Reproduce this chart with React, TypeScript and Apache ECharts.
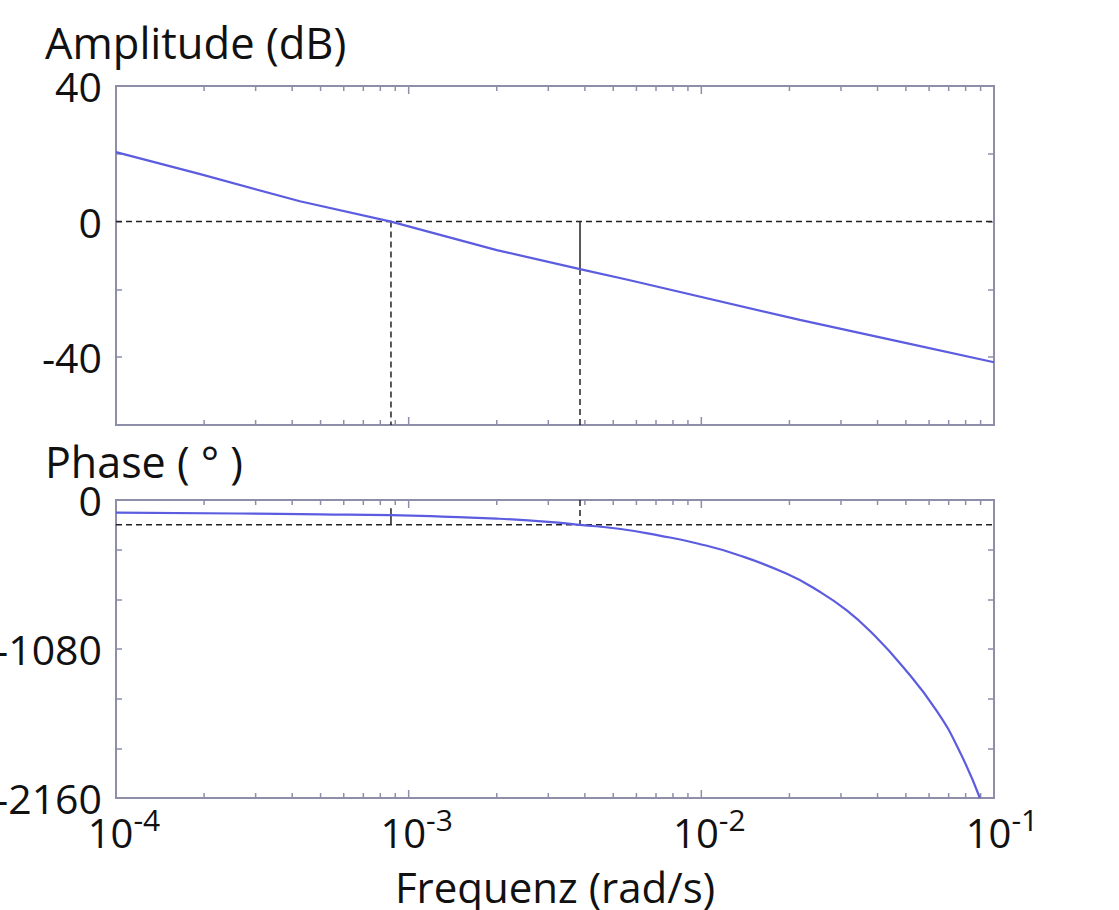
import React, { useEffect, useRef } from "react";
import * as echarts from "echarts";

// ---- data ----
const ampFreq = [1e-4, 1.94e-4, 4.25e-4, 8.7e-4, 2e-3, 3.85e-3, 5.7e-3, 2.17e-2, 4.8e-2, 1e-1];
const ampDb = [20.5, 14, 6, 0, -8.4, -14, -17.3, -29, -35.5, -41.5];

const phaseFreq = [
  1e-4, 2.6e-4, 5e-4, 8.7e-4, 1.3e-3, 2e-3, 3e-3, 3.85e-3, 5.3e-3, 7.2e-3,
  9.7e-3, 1.32e-2, 1.96e-2, 2.54e-2, 3.14e-2, 3.77e-2, 4.89e-2, 6.38e-2, 7.66e-2, 8.95e-2,
];
const phaseDeg = [
  -92, -98, -104, -110, -120, -135, -158, -180, -210, -258,
  -315, -395, -535, -665, -800, -950, -1210, -1530, -1830, -2160,
];

const gainCrossFreq = 8.7e-4;
const phaseCrossFreq = 3.85e-3;
const gainAtPhaseCross = -14;
const phaseMarginLineTop = -60;
const phaseRef = -180;

const ampLabels = [40, 0, -40];
const phaseLabels = [0, -1080, -2160];

const minorTickFreqs = [
  2e-4, 3e-4, 4e-4, 5e-4, 6e-4, 7e-4, 8e-4, 9e-4,
  2e-3, 3e-3, 4e-3, 5e-3, 6e-3, 7e-3, 8e-3, 9e-3,
  2e-2, 3e-2, 4e-2, 5e-2, 6e-2, 7e-2, 8e-2, 9e-2,
];
const majorTickFreqs = [1e-3, 1e-2];

// ---- styles ----
const FONT = "Open Sans";
const BORDER = "#8e8ea8";
const LINE = "#5c5ce0";
const MARK = "#222";

const AMP_MIN = -60, AMP_MAX = 40;
const PH_MIN = -2160, PH_MAX = 0;
const X_MIN = 1e-4, X_MAX = 1e-1;

function tickSeries(xAxisIndex: number, yAxisIndex: number, yMin: number, yMax: number) {
  return {
    type: "custom",
    xAxisIndex,
    yAxisIndex,
    silent: true,
    clip: false,
    data: [...minorTickFreqs.map((f) => [f, 5]), ...majorTickFreqs.map((f) => [f, 8])],
    renderItem: (_p: any, api: any) => {
      const f = api.value(0);
      const len = api.value(1);
      const top = api.coord([f, yMax]);
      const bot = api.coord([f, yMin]);
      const style = { stroke: BORDER, lineWidth: 1.5 };
      return {
        type: "group",
        children: [
          { type: "line", shape: { x1: top[0], y1: top[1], x2: top[0], y2: top[1] + len }, style },
          { type: "line", shape: { x1: bot[0], y1: bot[1], x2: bot[0], y2: bot[1] - len }, style },
        ],
      };
    },
  };
}

function seg(points: number[][], dashed: boolean, xAxisIndex: number, yAxisIndex: number) {
  return {
    type: "line",
    xAxisIndex,
    yAxisIndex,
    data: points,
    symbol: "none",
    silent: true,
    z: 3,
    lineStyle: { color: MARK, width: 1.5, type: dashed ? [6, 4] : "solid" },
  };
}

export default function App() {
  const ref = useRef<HTMLDivElement>(null);

  useEffect(() => {
    if (!ref.current) return;
    const chart = echarts.init(ref.current, null, { renderer: "svg" });

    const yLabelStyle = { fontSize: 41, fontFamily: FONT, color: "#111", margin: 14 };
    const tickStyle = { show: true, inside: true, length: 6, lineStyle: { color: BORDER, width: 1.5 } };

    const option: any = {
      animation: false,
      backgroundColor: "#fff",
      title: [
        {
          text: "Amplitude (dB)",
          left: 45,
          top: 20,
          padding: 0,
          textStyle: { fontSize: 43.5, fontWeight: "normal", fontFamily: FONT, color: "#111" },
        },
        {
          text: "Phase ( ° )",
          left: 45,
          top: 440,
          padding: 0,
          textStyle: { fontSize: 43, fontWeight: "normal", fontFamily: FONT, color: "#111" },
        },
      ],
      grid: [
        {
          left: 116, width: 878, top: 86, height: 339,
          show: true, borderColor: BORDER, borderWidth: 2,
          outerBoundsMode: "none", containLabel: false,
        },
        {
          left: 116, width: 878, top: 500, height: 298,
          show: true, borderColor: BORDER, borderWidth: 2,
          outerBoundsMode: "none", containLabel: false,
        },
      ],
      xAxis: [
        {
          type: "log",
          logBase: 10,
          gridIndex: 0,
          min: X_MIN,
          max: X_MAX,
          axisLine: { show: false },
          axisTick: { show: false },
          axisLabel: { show: false },
          splitLine: { show: false },
        },
        {
          type: "log",
          logBase: 10,
          gridIndex: 1,
          min: X_MIN,
          max: X_MAX,
          axisLine: { show: false },
          axisTick: { show: false },
          splitLine: { show: false },
          axisLabel: {
            margin: 4,
            padding: [0, 0, 0, 16],
            formatter: (v: number) => `{b|10}{s|${Math.round(Math.log10(v))}}`,
            rich: {
              b: { fontSize: 40, fontFamily: FONT, color: "#111", lineHeight: 60 },
              s: { fontSize: 30, fontFamily: FONT, color: "#111", lineHeight: 34, padding: [0, 0, 26, 0] },
            },
          },
          name: "Frequenz (rad/s)",
          nameLocation: "middle",
          nameGap: 67,
          nameTextStyle: { fontSize: 42, fontFamily: FONT, color: "#111" },
        },
      ],
      yAxis: [
        {
          type: "value",
          gridIndex: 0,
          min: AMP_MIN,
          max: AMP_MAX,
          interval: 20,
          axisLine: { show: false },
          axisTick: tickStyle,
          splitLine: { show: false },
          axisLabel: {
            ...yLabelStyle,
            formatter: (v: number) => (ampLabels.includes(v) ? String(v) : ""),
          },
        },
        {
          type: "value",
          gridIndex: 0,
          position: "right",
          min: AMP_MIN,
          max: AMP_MAX,
          interval: 20,
          axisLine: { show: false },
          axisTick: tickStyle,
          splitLine: { show: false },
          axisLabel: { show: false },
        },
        {
          type: "value",
          gridIndex: 1,
          min: PH_MIN,
          max: PH_MAX,
          interval: 360,
          axisLine: { show: false },
          axisTick: tickStyle,
          splitLine: { show: false },
          axisLabel: {
            ...yLabelStyle,
            formatter: (v: number) => (phaseLabels.includes(v) ? String(v) : ""),
          },
        },
        {
          type: "value",
          gridIndex: 1,
          position: "right",
          min: PH_MIN,
          max: PH_MAX,
          interval: 360,
          axisLine: { show: false },
          axisTick: tickStyle,
          splitLine: { show: false },
          axisLabel: { show: false },
        },
      ],
      series: [
        tickSeries(0, 0, AMP_MIN, AMP_MAX),
        tickSeries(1, 2, PH_MIN, PH_MAX),
        // amplitude reference lines
        seg([[X_MIN, 0], [X_MAX, 0]], true, 0, 0),
        seg([[gainCrossFreq, 0], [gainCrossFreq, AMP_MIN]], true, 0, 0),
        seg([[phaseCrossFreq, 0], [phaseCrossFreq, gainAtPhaseCross]], false, 0, 0),
        seg([[phaseCrossFreq, gainAtPhaseCross], [phaseCrossFreq, AMP_MIN]], true, 0, 0),
        // phase reference lines
        seg([[X_MIN, phaseRef], [X_MAX, phaseRef]], true, 1, 2),
        seg([[gainCrossFreq, phaseRef], [gainCrossFreq, phaseMarginLineTop]], false, 1, 2),
        seg([[phaseCrossFreq, PH_MAX], [phaseCrossFreq, phaseRef]], true, 1, 2),
        {
          type: "line",
          name: "Amplitude",
          xAxisIndex: 0,
          yAxisIndex: 0,
          data: ampFreq.map((f, i) => [f, ampDb[i]]),
          symbol: "none",
          z: 4,
          lineStyle: { color: LINE, width: 2.2 },
        },
        {
          type: "line",
          name: "Phase",
          xAxisIndex: 1,
          yAxisIndex: 2,
          data: phaseFreq.map((f, i) => [f, phaseDeg[i]]),
          symbol: "none",
          smooth: 0.5,
          z: 4,
          lineStyle: { color: LINE, width: 2.2 },
        },
      ],
    };

    chart.setOption(option);
    return () => chart.dispose();
  }, []);

  return (
    <div
      ref={ref}
      style={{ position: "absolute", left: 0, top: 0, width: 1119, height: 910 }}
    />
  );
}
